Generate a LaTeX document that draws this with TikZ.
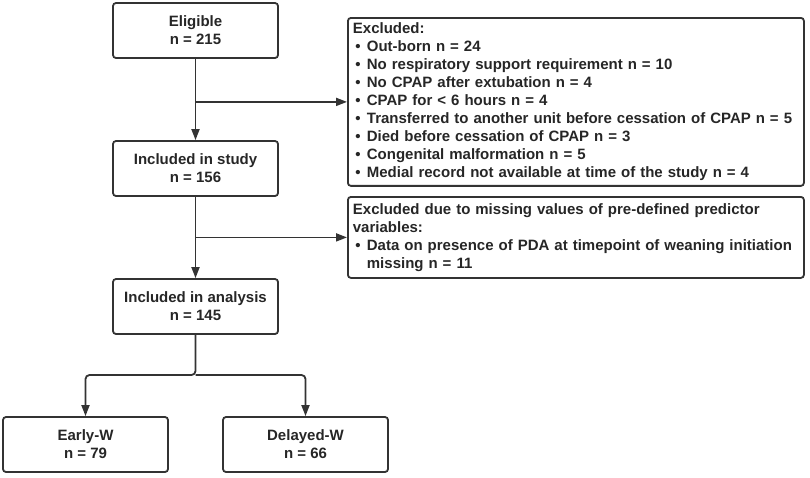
\documentclass[tikz,border=0pt]{standalone}
\usepackage{fontspec}
\setmainfont{Liberation Sans}
\usepackage{tikz}
\usepackage{xcolor}
\usetikzlibrary{arrows.meta,positioning}

\definecolor{linegray}{HTML}{333333}
\definecolor{textgray}{HTML}{262626}
\newcommand{\itm}{\makebox[14pt][l]{\hspace{2.5pt}\textbullet}}

\begin{document}
\begin{tikzpicture}[x=1pt,y=-1pt,
    box/.style={draw=linegray, line width=1.8pt, rounded corners=3pt,
        minimum width=165pt, minimum height=55pt, align=center,
        font=\fontsize{15}{18}\selectfont\bfseries, text=textgray},
    exbox/.style={draw=linegray, line width=1.8pt, rounded corners=3pt,
        anchor=north west, text width=446pt, inner sep=5pt, align=left,
        font=\fontsize{15}{18}\selectfont\bfseries, text=textgray},
    arr/.style={draw=linegray, line width=1.8pt, -{Triangle[length=11pt,width=8pt]}}]
    \useasboundingbox (0,0) rectangle (810,477);

    % Main flow
    \node[box] (elig) at (195.5,30.5) {Eligible\\n = 215};
    \node[box] (study) at (195.5,168.5) {Included in study\\n = 156};
    \node[box] (anal) at (195.5,306.5) {Included in analysis\\n = 145};
    \node[box] (early) at (85.5,444.5) {Early-W\\n = 79};
    \node[box] (delayed) at (305.5,444.5) {Delayed-W\\n = 66};

    % Exclusion boxes
    \node[exbox, minimum height=166pt] (excl1) at (347,17) {Excluded:\\
        \itm Out-born n = 24\\
        \itm No respiratory support requirement n = 10\\
        \itm No CPAP after extubation n = 4\\
        \itm CPAP for < 6 hours n = 4\\
        \itm Transferred to another unit before cessation of CPAP n = 5\\
        \itm Died before cessation of CPAP n = 3\\
        \itm Congenital malformation n = 5\\
        \itm Medial record not available at time of the study n = 4};
    \node[exbox, minimum height=81pt] (excl2) at (347,196) {Excluded due to missing values of pre-defined predictor\\
        variables:\\
        \itm\parbox[t]{432pt}{Data on presence of PDA at timepoint of weaning initiation\\missing n = 11}};

    % Connectors
    \draw[arr] (elig) -- (study);
    \draw[arr] (elig.south |- excl1.west) -- (excl1.west);
    \draw[arr] (study) -- (anal);
    \draw[arr] (study.south |- excl2.west) -- (excl2.west);
    \coordinate (split) at (195.5,375);
    \draw[arr, rounded corners=4pt] (anal.south) -- (split) -| (early.north);
    \draw[arr, rounded corners=4pt] (split) -| (delayed.north);
\end{tikzpicture}
\end{document}
